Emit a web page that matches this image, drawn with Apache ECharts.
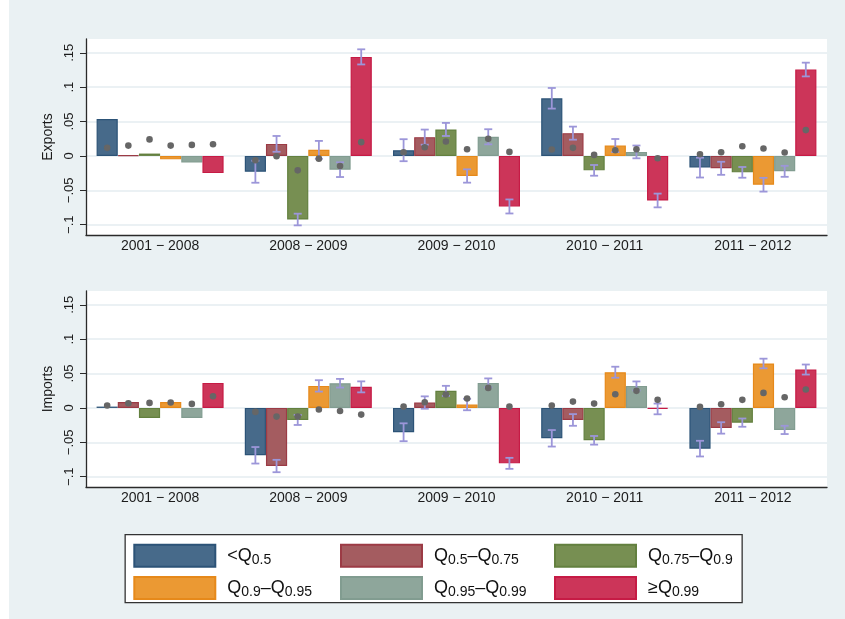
<!DOCTYPE html>
<html>
<head>
<meta charset="utf-8">
<script src="https://cdn.jsdelivr.net/npm/echarts@6/dist/echarts.min.js"></script>
<style>
  html, body { margin: 0; padding: 0; background: #eaf1f3; }
  #chart { width: 845px; height: 619px; }
</style>
</head>
<body>
<div id="chart"></div>
<script>
// Periods on the x axis
const categories = ['2001 − 2008', '2008 − 2009', '2009 − 2010', '2010 − 2011', '2011 − 2012'];

// Size classes (one bar per class in every period)
const classNames = ['<Q0.5', 'Q0.5–Q0.75', 'Q0.75–Q0.9', 'Q0.9–Q0.95', 'Q0.95–Q0.99', '≥Q0.99'];

// Y-axis ticks and their printed labels
const tickValues = [-0.1, -0.05, 0, 0.05, 0.1, 0.15];
const tickLabels = ['−.1', '−.05', '0', '.05', '.1', '.15'];

// Exports: bar heights, half-width of the confidence band, mean marker (per class, per period)
const exportsBars = [
  [0.0536, -0.0230, 0.0083, 0.0838, -0.0170],
  [0.0010, 0.0175, 0.0273, 0.0331, -0.0180],
  [0.0034, -0.0925, 0.0385, -0.0210, -0.0239],
  [-0.0050, 0.0088, -0.0292, 0.0151, -0.0419],
  [-0.0097, -0.0200, 0.0278, 0.0058, -0.0224],
  [-0.0250, 0.1440, -0.0735, -0.0648, 0.1256]
];
const exportsErr = [
  [null, 0.0160, 0.0160, 0.0150, 0.0144],
  [null, 0.0115, 0.0110, 0.0095, 0.0095],
  [null, 0.0085, 0.0095, 0.0078, 0.0078],
  [null, 0.0130, 0.0097, 0.0095, 0.0100],
  [null, 0.0107, 0.0110, 0.0093, 0.0080],
  [null, 0.0110, 0.0102, 0.0100, 0.0100]
];
const exportsMean = [
  [0.0117, -0.0063, 0.0054, 0.0093, 0.0024],
  [0.0150, -0.0005, 0.0127, 0.0117, 0.0054],
  [0.0240, -0.0210, 0.0210, 0.0015, 0.0141],
  [0.0150, -0.0040, 0.0097, 0.0083, 0.0107],
  [0.0160, -0.0146, 0.0248, 0.0097, 0.0049],
  [0.0170, 0.0200, 0.0058, -0.0034, 0.0375]
];

// Imports
const importsBars = [
  [0.0019, -0.0689, -0.0354, -0.0442, -0.0592],
  [0.0087, -0.0845, 0.0078, -0.0175, -0.0291],
  [-0.0146, -0.0175, 0.0248, -0.0471, -0.0214],
  [0.0087, 0.0320, 0.0049, 0.0519, 0.0646],
  [-0.0146, 0.0359, 0.0364, 0.0320, -0.0320],
  [0.0364, 0.0306, -0.0806, -0.0015, 0.0558]
];
const importsErr = [
  [null, 0.0120, 0.0130, 0.0120, 0.0114],
  [null, 0.0090, 0.0090, 0.0085, 0.0083],
  [null, 0.0073, 0.0073, 0.0063, 0.0060],
  [null, 0.0083, 0.0083, 0.0080, 0.0070],
  [null, 0.0063, 0.0065, 0.0065, 0.0060],
  [null, 0.0080, 0.0080, 0.0078, 0.0073]
];
const importsMean = [
  [0.0034, -0.0058, 0.0019, 0.0034, 0.0015],
  [0.0068, -0.0126, 0.0083, 0.0092, 0.0053],
  [0.0073, -0.0126, 0.0194, 0.0063, 0.0117],
  [0.0078, -0.0024, 0.0136, 0.0199, 0.0218],
  [0.0058, -0.0044, 0.0291, 0.0248, 0.0155],
  [0.0170, -0.0097, 0.0019, 0.0117, 0.0267]
];

const fills = ['#476a8a', '#a45c60', '#778f52', '#eb9933', '#8ea69b', '#cc3559'];
const borders = ['#2c5377', '#9c3b45', '#63803f', '#e6891a', '#819c90', '#c61b45'];

const FONT = 'Liberation Sans, Arial, Helvetica, sans-serif';
const TEXT = '#1c1c1c';
const CAT_GAP = 0.143;

function tickText(v) {
  for (let i = 0; i < tickValues.length; i++) {
    if (Math.abs(tickValues[i] - v) < 1e-9) return tickLabels[i];
  }
  return '';
}

function makeXAxis(gridIndex) {
  return {
    type: 'category', gridIndex, data: categories,
    axisLine: { onZero: false, lineStyle: { color: '#2a2a2a', width: 1.3 } },
    axisTick: { show: false },
    axisLabel: { fontSize: 14, fontFamily: FONT, color: TEXT, margin: 4 },
    splitLine: { show: false }
  };
}

function makeYAxis(gridIndex, name) {
  return {
    type: 'value', gridIndex, min: -0.115, max: 0.17,
    name, nameLocation: 'middle', nameGap: 31,
    nameTextStyle: { fontSize: 14, fontFamily: FONT, color: TEXT },
    axisLine: { show: true, lineStyle: { color: '#2a2a2a', width: 1.3 } },
    axisTick: { show: true, length: 6, customValues: tickValues, lineStyle: { color: '#2a2a2a', width: 1 } },
    axisLabel: {
      customValues: tickValues, rotate: 90, margin: 10,
      fontSize: 13, fontFamily: FONT, color: TEXT,
      formatter: tickText
    },
    splitLine: { show: true, lineStyle: { color: '#e5edf0', width: 1.5 } }
  };
}

// Confidence whiskers and mean markers, placed at the centre of each bar
function renderMarks(params, api) {
  const cat = api.value(0), s = api.value(1), v = api.value(2), e = api.value(3), m = api.value(4);
  const band = api.size([1, 0])[0];
  const bw = band * (1 - CAT_GAP) / classNames.length;
  const x = api.coord([cat, 0])[0] + (s - (classNames.length - 1) / 2) * bw;
  const children = [];
  if (!isNaN(e) && e > 0) {
    const yHi = api.coord([cat, v + e])[1];
    const yLo = api.coord([cat, v - e])[1];
    const st = { stroke: '#9c96d9', lineWidth: 1.8, fill: null };
    children.push({ type: 'line', shape: { x1: x, y1: yHi, x2: x, y2: yLo }, style: st });
    children.push({ type: 'line', shape: { x1: x - 4, y1: yHi, x2: x + 4, y2: yHi }, style: st });
    children.push({ type: 'line', shape: { x1: x - 4, y1: yLo, x2: x + 4, y2: yLo }, style: st });
  }
  const ym = api.coord([cat, m])[1];
  children.push({ type: 'circle', shape: { cx: x, cy: ym, r: 3.3 }, style: { fill: '#666666' } });
  return { type: 'group', children };
}

function panelSeries(axisIndex, bars, errs, means) {
  const out = [];
  classNames.forEach((name, s) => {
    out.push({
      type: 'bar', name, xAxisIndex: axisIndex, yAxisIndex: axisIndex,
      data: bars[s], barGap: '0%', barCategoryGap: (CAT_GAP * 100) + '%',
      itemStyle: { color: fills[s], borderColor: borders[s], borderWidth: 1.2 },
      emphasis: { disabled: true }
    });
  });
  const markData = [];
  classNames.forEach((name, s) => {
    categories.forEach((c, k) => {
      markData.push([k, s, bars[s][k], errs[s][k] == null ? NaN : errs[s][k], means[s][k]]);
    });
  });
  out.push({
    type: 'custom', xAxisIndex: axisIndex, yAxisIndex: axisIndex, z: 5,
    renderItem: renderMarks, data: markData,
    encode: { x: 0, y: [2, 4] }, silent: true
  });
  return out;
}

function legendLabel(name) {
  return '{pad|}' + name.replace(/Q(\d\.\d+)/g, '{q|Q}{s|$1}');
}

function makeLegend(left, names) {
  return {
    left, top: 543.7, orient: 'vertical', data: names, padding: 0,
    icon: 'rect', itemWidth: 81, itemHeight: 22, itemGap: 8.3,
    selectedMode: false,
    formatter: legendLabel,
    textStyle: {
      fontSize: 18, fontFamily: FONT, color: '#111111', lineHeight: 22,
      rich: {
        pad: { width: 7 },
        q: { fontSize: 18, fontFamily: FONT, color: '#111111' },
        s: { fontSize: 14, fontFamily: FONT, color: '#111111', verticalAlign: 'bottom', lineHeight: 9 }
      }
    }
  };
}

const chart = echarts.init(document.getElementById('chart'), null, { renderer: 'canvas' });
chart.setOption({
  animation: false,
  backgroundColor: '#eaf1f3',
  graphic: [
    { type: 'rect', left: 0, top: 0, shape: { width: 9, height: 619 }, style: { fill: '#ffffff' }, silent: true },
    { type: 'rect', left: 124.5, top: 534, shape: { width: 617, height: 68 },
      style: { fill: '#ffffff', stroke: '#333333', lineWidth: 1.3 }, silent: true }
  ],
  grid: [
    { left: 86, top: 39, width: 741, height: 196, show: true, backgroundColor: '#ffffff', borderWidth: 0 },
    { left: 86, top: 291, width: 741, height: 196, show: true, backgroundColor: '#ffffff', borderWidth: 0 }
  ],
  xAxis: [makeXAxis(0), makeXAxis(1)],
  yAxis: [makeYAxis(0, 'Exports'), makeYAxis(1, 'Imports')],
  legend: [
    makeLegend(133.3, [classNames[0], classNames[3]]),
    makeLegend(340, [classNames[1], classNames[4]]),
    makeLegend(554, [classNames[2], classNames[5]])
  ],
  series: [
    ...panelSeries(0, exportsBars, exportsErr, exportsMean),
    ...panelSeries(1, importsBars, importsErr, importsMean)
  ]
});
</script>
</body>
</html>
